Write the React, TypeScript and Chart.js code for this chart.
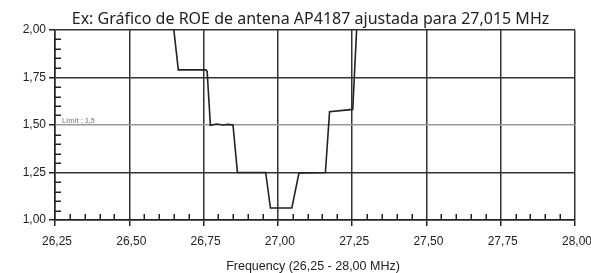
import React, { useEffect, useRef } from "react";
import { Chart, registerables } from "chart.js";

Chart.register(...registerables);

const titleText = "Ex: Gráfico de ROE de antena AP4187 ajustada para 27,015 MHz";
const xAxisTitle = "Frequency (26,25 - 28,00 MHz)";
const limitLabel = "Limit : 1,5";
const limitValue = 1.5;

const freqs = [26.65, 26.665, 26.758, 26.762, 26.773, 26.794, 26.816, 26.833, 26.849, 26.864, 26.959, 26.975, 27.047, 27.071, 27.16, 27.174, 27.252, 27.265];
const roe = [2.0, 1.79, 1.79, 1.782, 1.498, 1.505, 1.5, 1.503, 1.5, 1.25, 1.25, 1.063, 1.063, 1.247, 1.25, 1.57, 1.582, 2.0];

const xTickLabels = ["26,25", "26,50", "26,75", "27,00", "27,25", "27,50", "27,75", "28,00"];
const yTickLabels = ["1,00", "1,25", "1,50", "1,75", "2,00"];
const xMin = 26.25, xMax = 28.0, xStep = 0.25, xMinorStep = 0.05;
const yMin = 1.0, yMax = 2.0, yStep = 0.25, yMinorStep = 0.05;

const W = 591, H = 273;

export default function App() {
  const ref = useRef<HTMLCanvasElement>(null);
  useEffect(() => {
    const canvas = ref.current!;
    const extras = {
      id: "extras",
      afterDraw(chart: any) {
        const ctx = chart.ctx;
        const xs = chart.scales.x, ys = chart.scales.y;
        const ca = chart.chartArea;
        ctx.save();
        // minor ticks
        ctx.strokeStyle = "#222";
        ctx.lineWidth = 1.5;
        const nx = Math.round((xMax - xMin) / xMinorStep);
        for (let k = 1; k < nx; k++) {
          if (k % 5 === 0) continue;
          const px = Math.round(xs.getPixelForValue(xMin + k * xMinorStep)) + 0.25;
          ctx.beginPath();
          ctx.moveTo(px, ca.bottom);
          ctx.lineTo(px, ca.bottom - 6);
          ctx.stroke();
        }
        const ny = Math.round((yMax - yMin) / yMinorStep);
        for (let k = 1; k < ny; k++) {
          if (k % 5 === 0) continue;
          const py = Math.round(ys.getPixelForValue(yMin + k * yMinorStep)) + 0.25;
          ctx.beginPath();
          ctx.moveTo(ca.left, py);
          ctx.lineTo(ca.left + 6, py);
          ctx.stroke();
        }
        // limit label
        ctx.fillStyle = "#999";
        ctx.font = "bold 7px 'Liberation Sans', Arial, sans-serif";
        ctx.textAlign = "left";
        ctx.textBaseline = "alphabetic";
        ctx.fillText(limitLabel, ca.left + 7, ys.getPixelForValue(limitValue) - 2);
        // title
        ctx.fillStyle = "#222";
        ctx.font = "16px 'Noto Sans', sans-serif";
        ctx.textAlign = "center";
        ctx.fillText(titleText, 310.5, 24);
        // x axis title
        ctx.font = "12.5px 'Liberation Sans', Arial, sans-serif";
        ctx.fillText(xAxisTitle, 313, 270);
        ctx.restore();
      },
    };
    const chart = new Chart(canvas, {
      type: "scatter",
      data: {
        datasets: [
          {
            data: freqs.map((f, i) => ({ x: f, y: roe[i] })),
            showLine: true,
            borderColor: "#222",
            borderWidth: 1.6,
            pointRadius: 0,
            tension: 0,
          },
        ],
      },
      options: {
        responsive: false,
        animation: false,
        devicePixelRatio: 1,
        layout: { padding: { top: 30, right: 16, left: 0, bottom: 0 } },
        plugins: { legend: { display: false }, tooltip: { enabled: false }, title: { display: false } },
        scales: {
          x: {
            type: "linear",
            min: xMin,
            max: xMax,
            afterFit: (s: any) => { s.height = 53; s.paddingLeft = 0; s.paddingRight = 0; },
            ticks: {
              stepSize: xStep,
              autoSkip: false,
              maxRotation: 0,
              padding: 8,
              labelOffset: 2,
              color: "#222",
              font: { family: "'Liberation Sans', Arial, sans-serif", size: 12 },
              callback: (_v: any, i: number) => xTickLabels[i],
            },
            grid: { color: "#333", lineWidth: 1.5, tickLength: 6, tickColor: "#222" },
            border: { display: true, color: "#222", width: 1.5 },
          },
          y: {
            min: yMin,
            max: yMax,
            afterFit: (s: any) => { s.width = 55; s.paddingTop = 0; s.paddingBottom = 0; },
            ticks: {
              stepSize: yStep,
              padding: 3,
              color: "#222",
              font: { family: "'Liberation Sans', Arial, sans-serif", size: 12 },
              callback: (_v: any, i: number) => yTickLabels[i],
            },
            grid: {
              color: (c: any) => (c.tick && Math.abs(c.tick.value - limitValue) < 1e-6 ? "#999" : "#333"),
              lineWidth: 1.5,
              tickLength: 6,
              tickColor: "#222",
            },
            border: { display: true, color: "#222", width: 1.5 },
          },
        },
      },
      plugins: [extras],
    } as any);
    return () => chart.destroy();
  }, []);
  return (
    <div style={{ position: "absolute", left: 0, top: 0, width: W, height: H, background: "#fff" }}>
      <canvas ref={ref} width={W} height={H} style={{ display: "block", width: W, height: H }} />
    </div>
  );
}
